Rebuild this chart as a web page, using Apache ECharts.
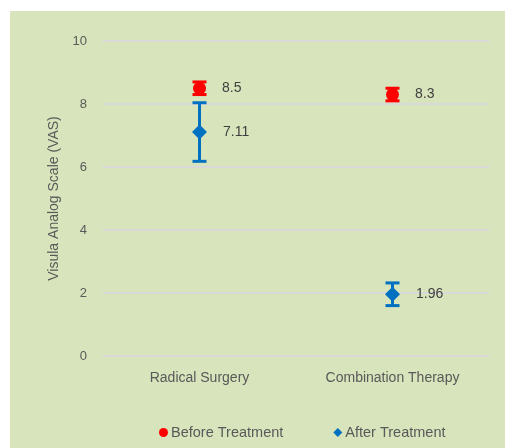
<!DOCTYPE html>
<html><head><meta charset="utf-8">
<script src="https://cdn.jsdelivr.net/npm/echarts@6/dist/echarts.min.js"></script>
<style>html,body{margin:0;padding:0;background:#fff;}#c{width:505px;height:448px;}</style>
</head><body><div id="c"></div>
<script>
const categories = ['Radical Surgery', 'Combination Therapy'];
const beforeValues = [8.5, 8.3];
const beforeErrors = [0.2, 0.2];
const afterValues = [7.11, 1.96];
const afterErrors = [0.93, 0.36];
const yTicks = [0, 2, 4, 6, 8, 10];

const FONT = 'Liberation Sans';
const TXT = '#595959';

function errSeries(name, values, errors, color) {
  return {
    type: 'custom', name: name + ' err', silent: true, z: 3,
    data: values.map((v, i) => [i, v - errors[i], v + errors[i]]),
    renderItem: function (params, api) {
      const lo = api.coord([api.value(0), api.value(1)]);
      const hi = api.coord([api.value(0), api.value(2)]);
      const hw = 7;
      const st = { stroke: color, lineWidth: 3 };
      return { type: 'group', children: [
        { type: 'line', shape: { x1: lo[0], y1: lo[1], x2: hi[0], y2: hi[1] }, style: st },
        { type: 'line', shape: { x1: lo[0] - hw, y1: lo[1], x2: lo[0] + hw, y2: lo[1] }, style: st },
        { type: 'line', shape: { x1: hi[0] - hw, y1: hi[1], x2: hi[0] + hw, y2: hi[1] }, style: st }
      ]};
    }
  };
}

const chart = echarts.init(document.getElementById('c'));
chart.setOption({
  animation: false,
  backgroundColor: '#ffffff',
  graphic: [{ type: 'rect', z: -10, shape: { x: 10, y: 11, width: 495, height: 437 }, style: { fill: '#d8e4bc' } }],
  grid: { left: 103, right: 16, top: 41, bottom: 92 },
  xAxis: {
    type: 'category', data: categories, boundaryGap: true,
    axisLine: { show: false }, axisTick: { show: false },
    axisLabel: { color: TXT, fontFamily: FONT, fontSize: 14, margin: 15 }
  },
  yAxis: {
    type: 'value', min: 0, max: 10, interval: 2,
    name: 'Visula Analog Scale (VAS)', nameLocation: 'middle', nameGap: 38, nameRotate: 90,
    nameTextStyle: { color: TXT, fontFamily: FONT, fontSize: 14 },
    axisLabel: { color: TXT, fontFamily: FONT, fontSize: 13, margin: 16,
      formatter: v => yTicks.includes(v) ? String(v) : '' },
    splitLine: { lineStyle: { color: '#d9d9d9', width: 2 } }
  },
  legend: {
    bottom: 3, left: 154, itemGap: 50, itemWidth: 9, itemHeight: 9,
    textStyle: { color: TXT, fontFamily: FONT, fontSize: 14.5, padding: [0, 0, 0, -2] },
    data: [
      { name: 'Before Treatment', icon: 'circle' },
      { name: 'After Treatment', icon: 'diamond' }
    ]
  },
  series: [
    errSeries('Before Treatment', beforeValues, beforeErrors, '#ff0000'),
    errSeries('After Treatment', afterValues, afterErrors, '#0070c0'),
    {
      type: 'scatter', name: 'Before Treatment', z: 5, symbol: 'circle', symbolSize: 13,
      itemStyle: { color: '#ff0000', opacity: 1 },
      data: beforeValues.map((v, i) => [i, v]),
      label: { show: true, position: 'right', distance: 16, color: '#404040', fontFamily: FONT, fontSize: 14,
        formatter: p => String(p.value[1]) }
    },
    {
      type: 'scatter', name: 'After Treatment', z: 5, symbol: 'diamond', symbolSize: 15,
      itemStyle: { color: '#0070c0', opacity: 1 },
      data: afterValues.map((v, i) => [i, v]),
      label: { show: true, position: 'right', distance: 16, color: '#404040', fontFamily: FONT, fontSize: 14,
        formatter: p => String(p.value[1]) }
    }
  ]
});
</script></body></html>
